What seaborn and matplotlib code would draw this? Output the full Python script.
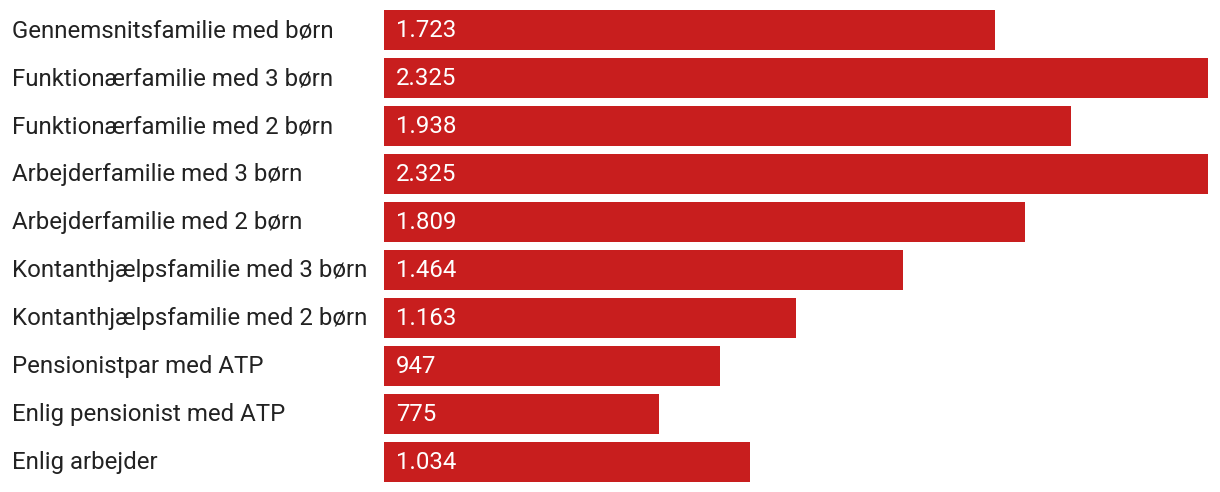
import pandas as pd
import matplotlib
matplotlib.use('Agg')
import matplotlib.pyplot as plt
import matplotlib.transforms as mtransforms
import seaborn as sns

# Data
categories = [
    'Gennemsnitsfamilie med børn',
    'Funktionærfamilie med 3 børn',
    'Funktionærfamilie med 2 børn',
    'Arbejderfamilie med 3 børn',
    'Arbejderfamilie med 2 børn',
    'Kontanthjælpsfamilie med 3 børn',
    'Kontanthjælpsfamilie med 2 børn',
    'Pensionistpar med ATP',
    'Enlig pensionist med ATP',
    'Enlig arbejder',
]
values = [1723, 2325, 1938, 2325, 1809, 1464, 1163, 947, 775, 1034]

df = pd.DataFrame({'kategori': categories, 'beloeb': values})

sns.set_style('white')
plt.rcParams['font.family'] = ['Roboto', 'DejaVu Sans']

fig = plt.figure(figsize=(12.2, 4.92), dpi=100)
ax = fig.add_axes([384 / 1220, 1 - 486 / 492, (1208 - 384) / 1220, 480 / 492])

sns.barplot(data=df, x='beloeb', y='kategori', orient='h', color='#C81E1E',
            saturation=1, width=0.833, linewidth=0, ax=ax)

ax.set_xlim(0, max(values))
ax.set_ylim(len(categories) - 0.5, -0.5)
ax.set_xlabel('')
ax.set_ylabel('')
ax.set_xticks([])
ax.set_yticks([])
for s in ax.spines.values():
    s.set_visible(False)

# baseline sits ~7px below the bar centre (48 px per row)
base = 7.3 / 48

# Category labels at the left edge of the figure
trans = mtransforms.blended_transform_factory(fig.transFigure, ax.transData)
for i, cat in enumerate(categories):
    ax.text(12 / 1220, i + base, cat, transform=trans, ha='left', va='baseline',
            fontsize=17.3, color='#222222')

# Values inside the bars (Danish thousands separator)
offset = mtransforms.offset_copy(ax.transData, fig=fig, x=12 * 72 / 100, y=0, units='points')
for i, v in enumerate(values):
    txt = f'{v:,}'.replace(',', '.')
    ax.text(0, i + base, txt, transform=offset, ha='left', va='baseline',
            fontsize=17.3, color='white')

fig.savefig('out.png', dpi=100)
